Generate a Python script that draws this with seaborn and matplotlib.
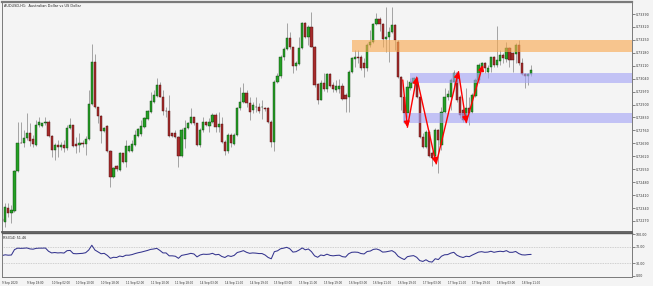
import numpy as np
import pandas as pd
import matplotlib
matplotlib.use("Agg")
import matplotlib.pyplot as plt
import seaborn as sns
from matplotlib.patches import Rectangle

sns.set_theme(style="white")
plt.rcParams['font.family'] = ['DejaVu Sans']

# ---------------- data ----------------
opens = [0.72279, 0.72266, 0.72342, 0.72315, 0.72326, 0.72541, 0.72694, 0.72690, 0.72717, 0.72748,
         0.72712, 0.72681, 0.72789, 0.72786, 0.72798, 0.72807, 0.72732, 0.72654, 0.72681, 0.72668,
         0.72679, 0.72663, 0.72771, 0.72789, 0.72686, 0.72681, 0.72694, 0.72686, 0.72713, 0.72903,
         0.73132, 0.72885, 0.72838, 0.72759, 0.72784, 0.72650, 0.72506, 0.72568, 0.72546, 0.72636,
         0.72591, 0.72650, 0.72650, 0.72681, 0.72730, 0.72739, 0.72777, 0.72822, 0.72861, 0.72916,
         0.72948, 0.73006, 0.72942, 0.72867, 0.72867, 0.72744, 0.72744, 0.72726, 0.72623, 0.72713,
         0.72771, 0.72798, 0.72831, 0.72798,
         0.72682, 0.72763, 0.72808, 0.72784, 0.72808, 0.72844, 0.72781, 0.72795, 0.72700, 0.72646,
         0.72736, 0.72687, 0.72736, 0.72880, 0.72916, 0.72961, 0.72907, 0.72871, 0.72889, 0.72889,
         0.72885, 0.72880, 0.72880, 0.72808, 0.72700, 0.73024, 0.73055, 0.73156, 0.73199, 0.73259,
         0.73210, 0.73109, 0.73120, 0.73205, 0.73343, 0.73268, 0.73318, 0.73214, 0.73012, 0.72925,
         0.73019, 0.72983, 0.73066, 0.73006, 0.72979, 0.72983, 0.73001, 0.72952, 0.72943, 0.73078,
         0.73145, 0.73156, 0.73156, 0.73123, 0.73096, 0.73223, 0.73241, 0.73336, 0.73361, 0.73336,
         0.73253, 0.73264, 0.73295, 0.73331,
         0.73241, 0.73051, 0.72943, 0.72853, 0.72988, 0.73015, 0.73042, 0.72943, 0.72727, 0.72673,
         0.72754, 0.72637, 0.72619, 0.72763, 0.72680, 0.72862, 0.72940, 0.72943, 0.73024, 0.73073,
         0.72943, 0.72871, 0.72821, 0.72880, 0.72862, 0.72947, 0.73033, 0.73096, 0.73123, 0.73078,
         0.73105, 0.73156, 0.73114, 0.73138, 0.73169, 0.73145, 0.73205, 0.73178, 0.73174, 0.73223,
         0.73123, 0.73066, 0.73055, 0.73066]

highs = [0.72284, 0.72366, 0.72366, 0.72357, 0.72546, 0.72807, 0.72807, 0.72762, 0.72852, 0.72798,
         0.72735, 0.72816, 0.72834, 0.72802, 0.72831, 0.72816, 0.72735, 0.72690, 0.72708, 0.72699,
         0.72708, 0.72789, 0.72825, 0.72790, 0.72726, 0.72744, 0.72708, 0.72730, 0.72979, 0.73227,
         0.73173, 0.72888, 0.72843, 0.72777, 0.72789, 0.72654, 0.72564, 0.72573, 0.72645, 0.72640,
         0.72708, 0.72681, 0.72708, 0.72762, 0.72771, 0.72816, 0.72834, 0.72871, 0.72970, 0.72979,
         0.73042, 0.73024, 0.72979, 0.72888, 0.72952, 0.72748, 0.72762, 0.72730, 0.72771, 0.72816,
         0.72807, 0.72879, 0.72834, 0.72802,
         0.72772, 0.72835, 0.72813, 0.72826, 0.72853, 0.72853, 0.72862, 0.72835, 0.72709, 0.72745,
         0.72745, 0.72745, 0.72889, 0.72994, 0.73015, 0.72979, 0.72943, 0.72916, 0.72943, 0.72907,
         0.72925, 0.72885, 0.72889, 0.72817, 0.73033, 0.73069, 0.73169, 0.73214, 0.73340, 0.73295,
         0.73214, 0.73138, 0.73268, 0.73349, 0.73349, 0.73331, 0.73403, 0.73217, 0.73015, 0.73033,
         0.73069, 0.73073, 0.73073, 0.73024, 0.73033, 0.73037, 0.73015, 0.72961, 0.73087, 0.73159,
         0.73196, 0.73196, 0.73169, 0.73151, 0.73232, 0.73304, 0.73343, 0.73394, 0.73376, 0.73340,
         0.73430, 0.73318, 0.73426, 0.73336,
         0.73250, 0.73055, 0.72952, 0.73033, 0.73042, 0.73051, 0.73048, 0.72947, 0.72745, 0.72763,
         0.72763, 0.72646, 0.72772, 0.72766, 0.72889, 0.72988, 0.72979, 0.73042, 0.73087, 0.73078,
         0.72952, 0.72880, 0.72988, 0.72943, 0.72961, 0.73042, 0.73123, 0.73132, 0.73132, 0.73114,
         0.73159, 0.73163, 0.73325, 0.73196, 0.73178, 0.73241, 0.73214, 0.73187, 0.73232, 0.73250,
         0.73151, 0.73073, 0.73069, 0.73114]

lows = [0.72266, 0.72239, 0.72293, 0.72257, 0.72321, 0.72537, 0.72690, 0.72672, 0.72708, 0.72676,
        0.72672, 0.72676, 0.72777, 0.72780, 0.72789, 0.72726, 0.72618, 0.72600, 0.72618, 0.72654,
        0.72645, 0.72654, 0.72766, 0.72672, 0.72636, 0.72645, 0.72672, 0.72627, 0.72708, 0.72897,
        0.72879, 0.72798, 0.72690, 0.72753, 0.72645, 0.72456, 0.72501, 0.72542, 0.72542, 0.72586,
        0.72564, 0.72645, 0.72645, 0.72676, 0.72726, 0.72730, 0.72771, 0.72816, 0.72856, 0.72906,
        0.72942, 0.72939, 0.72843, 0.72834, 0.72726, 0.72726, 0.72717, 0.72564, 0.72618, 0.72663,
        0.72766, 0.72795, 0.72789, 0.72676,
        0.72673, 0.72754, 0.72784, 0.72754, 0.72799, 0.72754, 0.72754, 0.72694, 0.72628, 0.72637,
        0.72673, 0.72682, 0.72730, 0.72871, 0.72907, 0.72889, 0.72817, 0.72853, 0.72862, 0.72853,
        0.72820, 0.72867, 0.72799, 0.72673, 0.72646, 0.73015, 0.73042, 0.73142, 0.73196, 0.73199,
        0.73073, 0.73087, 0.73114, 0.73199, 0.73259, 0.73223, 0.73210, 0.72997, 0.72903, 0.72922,
        0.72976, 0.72970, 0.72994, 0.72970, 0.72970, 0.72965, 0.72925, 0.72862, 0.72862, 0.73069,
        0.73105, 0.73123, 0.73087, 0.73051, 0.73080, 0.73214, 0.73232, 0.73331, 0.73300, 0.73214,
        0.73187, 0.73132, 0.73286, 0.73196,
        0.73042, 0.72871, 0.72799, 0.72835, 0.72979, 0.72997, 0.72934, 0.72718, 0.72664, 0.72664,
        0.72615, 0.72565, 0.72583, 0.72528, 0.72655, 0.72853, 0.72925, 0.72871, 0.72988, 0.72916,
        0.72826, 0.72808, 0.72813, 0.72790, 0.72853, 0.72943, 0.73015, 0.73078, 0.73069, 0.73042,
        0.73078, 0.73105, 0.73105, 0.73114, 0.73123, 0.73132, 0.73105, 0.73078, 0.73123, 0.73114,
        0.73060, 0.72988, 0.73006, 0.73055]

closes = [0.72272, 0.72348, 0.72315, 0.72330, 0.72541, 0.72694, 0.72690, 0.72717, 0.72748, 0.72705,
          0.72686, 0.72789, 0.72807, 0.72798, 0.72807, 0.72730, 0.72654, 0.72681, 0.72668, 0.72679,
          0.72665, 0.72771, 0.72789, 0.72678, 0.72678, 0.72694, 0.72686, 0.72713, 0.72903, 0.73132,
          0.72885, 0.72838, 0.72759, 0.72771, 0.72650, 0.72506, 0.72555, 0.72549, 0.72636, 0.72591,
          0.72676, 0.72676, 0.72686, 0.72735, 0.72766, 0.72784, 0.72825, 0.72867, 0.72919, 0.72952,
          0.73006, 0.72942, 0.72867, 0.72863, 0.72730, 0.72730, 0.72723, 0.72623, 0.72762, 0.72771,
          0.72798, 0.72834, 0.72798, 0.72681,
          0.72763, 0.72808, 0.72790, 0.72808, 0.72844, 0.72781, 0.72795, 0.72700, 0.72646, 0.72736,
          0.72691, 0.72736, 0.72880, 0.72916, 0.72961, 0.72907, 0.72862, 0.72898, 0.72885, 0.72867,
          0.72889, 0.72875, 0.72808, 0.72700, 0.73024, 0.73055, 0.73156, 0.73199, 0.73259, 0.73210,
          0.73109, 0.73123, 0.73205, 0.73343, 0.73268, 0.73318, 0.73214, 0.73006, 0.72925, 0.73019,
          0.72983, 0.73066, 0.73001, 0.72983, 0.73001, 0.73001, 0.72929, 0.72929, 0.73078, 0.73151,
          0.73156, 0.73151, 0.73096, 0.73096, 0.73223, 0.73241, 0.73336, 0.73361, 0.73336, 0.73253,
          0.73264, 0.73295, 0.73331, 0.73250,
          0.73051, 0.72943, 0.72853, 0.72997, 0.73024, 0.73042, 0.72943, 0.72727, 0.72673, 0.72754,
          0.72619, 0.72610, 0.72763, 0.72709, 0.72862, 0.72943, 0.72958, 0.73033, 0.73073, 0.72925,
          0.72844, 0.72817, 0.72880, 0.72853, 0.72952, 0.73033, 0.73114, 0.73123, 0.73096, 0.73096,
          0.73156, 0.73114, 0.73142, 0.73169, 0.73151, 0.73205, 0.73142, 0.73142, 0.73223, 0.73123,
          0.73066, 0.73055, 0.73066, 0.73087]

rsi_values = [48.6, 50.5, 49.5, 50.0, 63.0, 66.5, 66.0, 66.3, 67.0, 64.7,
              64.0, 66.0, 66.5, 66.5, 66.8, 59.0, 55.0, 56.0, 55.0, 55.5,
              54.7, 60.5, 61.0, 53.5, 53.0, 53.5, 54.0, 55.5, 62.0, 73.5,
              62.0, 57.5, 53.0, 54.0, 49.0, 42.0, 44.5, 44.0, 47.5, 46.0,
              49.5, 49.5, 51.0, 53.5, 55.5, 57.0, 59.0, 61.0, 63.5, 64.5,
              66.0, 61.0, 55.0, 55.0, 48.0, 48.0, 47.0, 42.0, 49.0, 50.5,
              52.0, 54.0, 52.5, 45.5, 50.0, 52.0, 51.5, 52.0, 54.0, 50.5,
              51.5, 46.5, 44.0, 48.5, 46.5, 49.0, 56.0, 58.0, 60.5, 56.5,
              54.0, 55.0, 54.5, 53.5, 53.5, 50.0, 44.0, 40.9, 58.0,
              60.0, 65.0, 66.5, 68.5, 65.0, 57.0, 58.0, 62.0, 67.0, 62.5,
              64.5, 58.0, 48.0, 44.5, 50.0, 48.5, 52.0, 49.0, 48.0, 49.0,
              49.5, 46.0, 45.0, 53.0, 56.5, 57.0, 56.5, 53.5, 52.5, 58.5,
              59.5, 63.5, 64.5, 62.0, 57.0, 57.5, 59.0, 60.5, 56.0, 47.0,
              42.5, 39.0, 46.0, 47.5, 48.5, 44.5, 36.5, 34.5, 38.5, 34.0,
              33.0, 41.0, 39.0, 47.0, 50.5, 51.0, 54.5, 56.5, 49.5, 46.0,
              44.0, 47.0, 46.0, 50.0, 53.5, 57.0, 58.0, 56.5, 57.0, 59.0,
              56.5, 58.0, 59.0, 58.0, 60.5, 56.5, 56.5, 58.5, 53.5, 50.5,
              50.0, 51.0, 51.46]

tick_labels = ["9 Sep 2020", "9 Sep 18:00", "10 Sep 02:00", "10 Sep 10:00", "10 Sep 18:00",
               "11 Sep 02:00", "11 Sep 10:00", "11 Sep 18:00", "14 Sep 03:00", "14 Sep 11:00",
               "14 Sep 19:00", "15 Sep 03:00", "15 Sep 11:00", "15 Sep 19:00", "16 Sep 03:00",
               "16 Sep 11:00", "16 Sep 19:00", "17 Sep 03:00", "17 Sep 11:00", "17 Sep 19:00",
               "18 Sep 03:00", "18 Sep 11:00"]
tick_bars = [0, 8, 16, 24, 32, 40, 48, 56, 64, 72, 80, 88, 96, 104, 112, 120, 128, 136, 144, 152, 160, 168]

price_ticks = [0.73390, 0.73320, 0.73250, 0.73180, 0.73110, 0.73040, 0.72970, 0.72900, 0.72830,
               0.72760, 0.72690, 0.72620, 0.72550, 0.72480, 0.72410, 0.72340, 0.72270]
rsi_ticks = [100, 70, 30, 0]
rsi_tick_labels = ["100.00", "70.00", "30.00", "0.00"]

zone_start = [113.0, 131.9, 129.5]
zone_low = [0.73186, 0.73015, 0.72799]
zone_high = [0.73249, 0.73072, 0.72853]
zone_colors = ["#F9A94F", "#A4A4F6", "#A4A4F6"]

arrow_bars = [129.5, 131.0, 134.0, 140.3, 147.5, 150.0, 155.4]
arrow_prices = [0.73033, 0.72777, 0.73048, 0.72579, 0.73078, 0.72802, 0.73114]

title_text = "AUDUSD,H1:  Australian Dollar vs US Dollar"
rsi_text = "RSI(14) 51.46"

# ---------------- build ----------------
n = len(closes)
df = pd.DataFrame({"bar": np.arange(n), "open": opens, "high": highs,
                   "low": lows, "close": closes, "rsi": rsi_values[:n]})

W, H = 653, 286
BG = "#F4F4F4"
fig = plt.figure(figsize=(W / 100, H / 100), dpi=100, facecolor=BG)
left = 1.5 / W
width = (632 - 1.5) / W
ax = fig.add_axes([left, 1 - 231.5 / H, width, (231.5 - 2) / H], facecolor=BG)
rax = fig.add_axes([left, 1 - 277 / H, width, (277 - 233) / H], facecolor=BG)

xmin, xmax = -0.2, 203.6

# wicks
ax.vlines(df["bar"], df["low"], df["high"], color="#8E8E8E", lw=0.55, zorder=1)
up = df["close"] >= df["open"]
body_bottom = np.minimum(df["open"], df["close"])
body_h = np.maximum(np.abs(df["close"] - df["open"]), 0.000025)
ax.bar(df["bar"][up], body_h[up], bottom=body_bottom[up], width=0.72,
       color="#25A025", edgecolor="#0F3F0F", linewidth=0.3, zorder=2)
ax.bar(df["bar"][~up], body_h[~up], bottom=body_bottom[~up], width=0.72,
       color="#A52C2C", edgecolor="#4A0C0C", linewidth=0.3, zorder=2)

# zones
for s, lo, hi, c in zip(zone_start, zone_low, zone_high, zone_colors):
    ax.add_patch(Rectangle((s, lo), xmax - s, hi - lo, facecolor=c, alpha=0.62,
                           edgecolor="none", zorder=3))

# red arrows
for i in range(len(arrow_bars) - 1):
    ax.annotate("", xy=(arrow_bars[i + 1], arrow_prices[i + 1]),
                xytext=(arrow_bars[i], arrow_prices[i]),
                arrowprops=dict(arrowstyle="-|>,head_length=0.28,head_width=0.14",
                                color="#FF0000", lw=1.0, shrinkA=0, shrinkB=0),
                zorder=4)

ax.set_xlim(xmin, xmax)
ax.set_ylim(0.72213, 0.73455)
ax.set_xticks([])
ax.yaxis.tick_right()
ax.set_yticks(price_ticks)
ax.set_yticklabels([f"{v:.5f}" for v in price_ticks])
ax.tick_params(axis="y", direction="out", length=2, width=0.5, colors="#555555",
               labelsize=2.3, pad=0.8, labelcolor="#333333")
ax.text(0.004, 0.99, title_text, transform=ax.transAxes, fontsize=2.5,
        va="top", ha="left", color="#222222")

# RSI
sns.lineplot(data=df, x="bar", y="rsi", ax=rax, color="#34348E", lw=0.75)
for lvl in (70, 30):
    rax.axhline(lvl, color="#AAAAAA", lw=0.45, ls=(0, (1.2, 1.5)), zorder=0)
rax.set_xlim(xmin, xmax)
rax.set_ylim(-3, 103)
rax.set_xlabel("")
rax.set_ylabel("")
rax.yaxis.tick_right()
rax.set_yticks(rsi_ticks)
rax.set_yticklabels(rsi_tick_labels)
rax.tick_params(axis="y", direction="out", length=2, width=0.5, colors="#555555",
                labelsize=2.3, pad=0.8, labelcolor="#333333")
rax.set_xticks(tick_bars)
rax.set_xticklabels(tick_labels)
rax.tick_params(axis="x", direction="out", length=2.2, width=0.5, colors="#555555",
                labelsize=2.0, pad=0.8, labelcolor="#333333")
for lbl in rax.get_xticklabels():
    lbl.set_ha("left")
rax.text(0.003, 0.93, rsi_text, transform=rax.transAxes, fontsize=2.4,
         va="top", ha="left", color="#222222")

for a in (ax, rax):
    for sp in a.spines.values():
        sp.set_color("#7A7A7A")
        sp.set_linewidth(0.7)
ax.spines["top"].set_linewidth(1.6)
ax.spines["bottom"].set_linewidth(1.3)
ax.spines["bottom"].set_color("#5A5A5A")
rax.spines["top"].set_linewidth(1.0)
rax.spines["top"].set_color("#5A5A5A")

fig.savefig("out.png", dpi=100, facecolor=BG)
